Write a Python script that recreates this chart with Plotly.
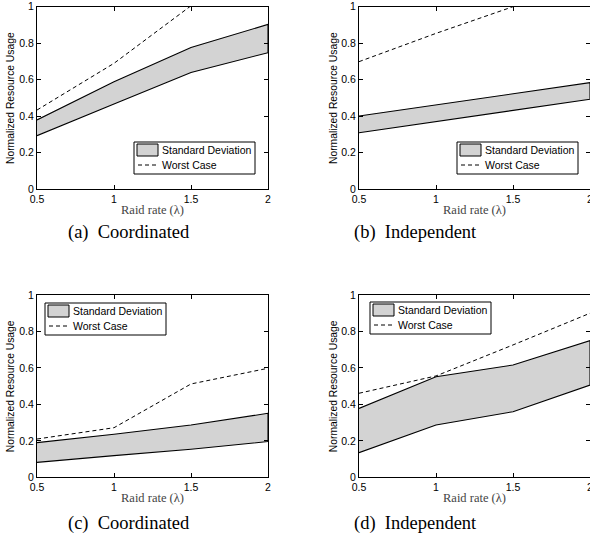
import plotly.graph_objects as go

W, H = 590, 542

raid_rate = [0.5, 1.0, 1.5, 2.0]
x_ticks = [0.5, 1, 1.5, 2]
x_tick_labels = ["0.5", "1", "1.5", "2"]
y_ticks = [0, 0.2, 0.4, 0.6, 0.8, 1.0]
y_tick_labels = ["0", "0.2", "0.4", "0.6", "0.8", "1"]

# (a) Coordinated
a_upper = [0.38, 0.589, 0.777, 0.903]
a_lower = [0.294, 0.467, 0.640, 0.748]
a_worst = [0.434, 0.690, 1.005, 1.25]
# (b) Independent
b_upper = [0.401, 0.463, 0.524, 0.584]
b_lower = [0.310, 0.371, 0.432, 0.493]
b_worst = [0.699, 0.854, 1.000, 1.20]
# (c) Coordinated
c_upper = [0.190, 0.236, 0.287, 0.351]
c_lower = [0.082, 0.119, 0.154, 0.196]
c_worst = [0.210, 0.272, 0.512, 0.598]
# (d) Independent
d_upper = [0.378, 0.552, 0.616, 0.750]
d_lower = [0.135, 0.287, 0.360, 0.506]
d_worst = [0.461, 0.556, 0.726, 0.900]

captions = ["(a)  Coordinated", "(b)  Independent", "(c)  Coordinated", "(d)  Independent"]
legend_names = ["Standard Deviation", "Worst Case"]
x_title = "Raid rate (λ)"
y_title = "Normalized Resource Usage"


def px(x):
    return x / W


def py(y):
    return 1 - y / H


panels = [
    dict(up=a_upper, lo=a_lower, wc=a_worst, xd=[px(37), px(268)], yd=[py(189.3), py(6.7)],
         leg=(134, 142), cap=(129, 232), ytx=10),
    dict(up=b_upper, lo=b_lower, wc=b_worst, xd=[px(359), 1.0], yd=[py(189.3), py(6.7)],
         leg=(457, 142), cap=(415, 232), ytx=333),
    dict(up=c_upper, lo=c_lower, wc=c_worst, xd=[px(37), px(268)], yd=[py(477.3), py(295)],
         leg=(45, 303), cap=(129, 523), ytx=10),
    dict(up=d_upper, lo=d_lower, wc=d_worst, xd=[px(359), 1.0], yd=[py(477.3), py(295)],
         leg=(370, 302), cap=(415, 523), ytx=333),
]

SANS = "Liberation Sans, Arial, sans-serif"
SERIF = "Liberation Serif, Times New Roman, serif"

fig = go.Figure()
annotations = []
shapes = []
layout = dict(
    width=W, height=H, margin=dict(l=0, r=0, t=0, b=0, autoexpand=False),
    paper_bgcolor="white", plot_bgcolor="white", showlegend=False,
    font=dict(family=SANS, size=10, color="black"),
)

LW, LH = 121, 32

for i, p in enumerate(panels):
    k = "" if i == 0 else str(i + 1)
    xa, ya = "x" + k, "y" + k
    band_x = raid_rate + raid_rate[::-1]
    band_y = p["up"] + p["lo"][::-1]
    fig.add_trace(go.Scatter(
        x=band_x, y=band_y, mode="lines", fill="toself", fillcolor="#d3d3d3",
        line=dict(color="black", width=1.1), name=legend_names[0],
        xaxis=xa, yaxis=ya, hoverinfo="skip"))
    fig.add_trace(go.Scatter(
        x=raid_rate, y=p["wc"], mode="lines",
        line=dict(color="black", width=1, dash="4px,3px"), name=legend_names[1],
        xaxis=xa, yaxis=ya))
    common = dict(showline=True, linecolor="black", linewidth=1, mirror="ticks", ticks="inside",
                  ticklen=4, tickcolor="black", showgrid=False, zeroline=False, automargin=False,
                  ticklabeloverflow="allow",
                  tickfont=dict(family=SANS, size=10.5, color="black"))
    layout["xaxis" + k] = dict(domain=p["xd"], anchor=ya, range=[0.5, 2], tickvals=x_ticks,
                               ticktext=x_tick_labels, **common)
    layout["yaxis" + k] = dict(domain=p["yd"], anchor=xa, range=[0, 1], tickvals=y_ticks,
                               ticktext=y_tick_labels, **common)

    # legend box (decoration)
    bx, by = p["leg"]
    shapes.append(dict(type="rect", xref="paper", yref="paper", layer="above",
                       x0=px(bx), x1=px(bx + LW), y0=py(by), y1=py(by + LH),
                       line=dict(color="black", width=1), fillcolor="white"))
    shapes.append(dict(type="rect", xref="paper", yref="paper", layer="above",
                       x0=px(bx + 3), x1=px(bx + 24), y0=py(by + 2), y1=py(by + 14),
                       line=dict(color="black", width=1), fillcolor="#d3d3d3"))
    shapes.append(dict(type="line", xref="paper", yref="paper", layer="above",
                       x0=px(bx + 4), x1=px(bx + 24), y0=py(by + 23), y1=py(by + 23),
                       line=dict(color="black", width=1, dash="4px,3px")))
    for j, name in enumerate(legend_names):
        annotations.append(dict(
            text=name, xref="paper", yref="paper", x=px(bx + 26), y=py(by + 8 + 15 * j),
            xanchor="left", yanchor="middle", showarrow=False,
            font=dict(family=SANS, size=10.5, color="black")))

    annotations.append(dict(
        text=x_title, xref=xa + " domain", yref=ya + " domain", x=0.5, y=0,
        xanchor="center", yanchor="middle", yshift=-21, showarrow=False,
        font=dict(family=SERIF, size=12.5, color="#444")))
    annotations.append(dict(
        text=y_title, xref="paper", yref=ya + " domain", x=px(p["ytx"]), y=0.5,
        xanchor="center", yanchor="middle", textangle=-90, showarrow=False,
        font=dict(family=SANS, size=10.3, color="black")))
    annotations.append(dict(
        text=captions[i], xref="paper", yref="paper", x=px(p["cap"][0]), y=py(p["cap"][1]),
        xanchor="center", yanchor="middle", showarrow=False,
        font=dict(family=SERIF, size=18.5, color="black")))

layout["annotations"] = annotations
layout["shapes"] = shapes
fig.update_layout(**layout)
fig.write_html("out.html", config={"displayModeBar": False},
               post_script="document.body.style.margin='0';")
